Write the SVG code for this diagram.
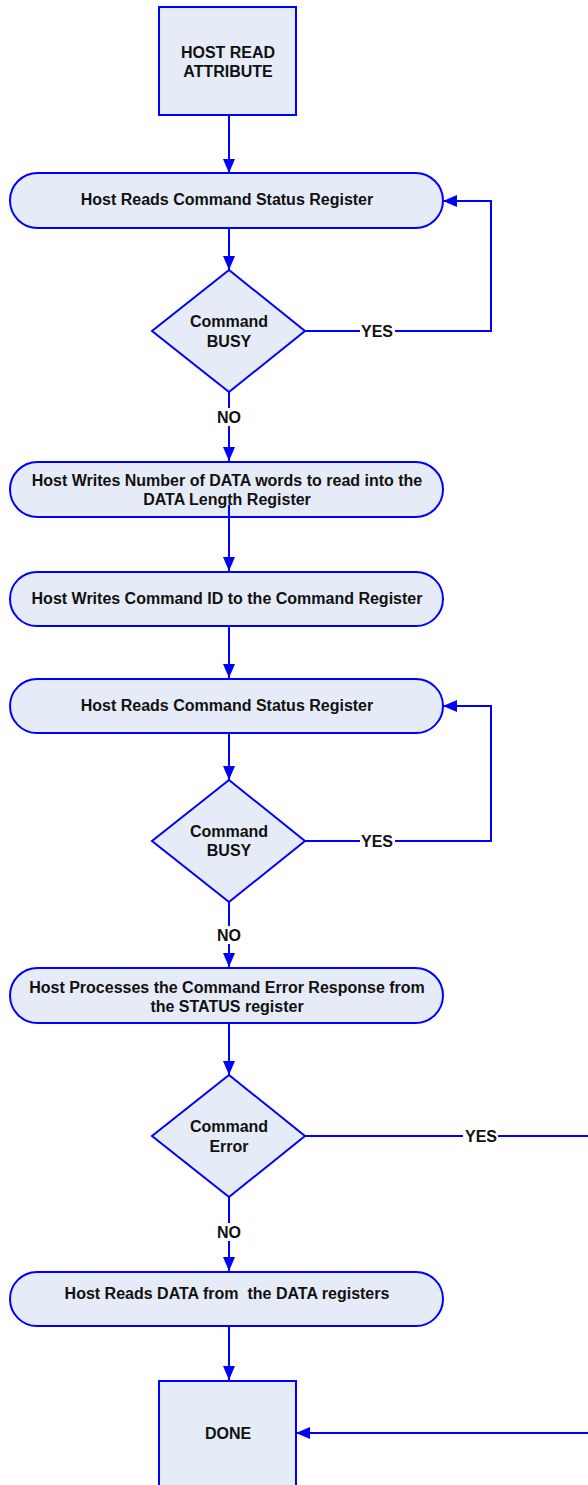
<svg xmlns="http://www.w3.org/2000/svg" width="588" height="1485" viewBox="0 0 588 1485">
<style>
.s{fill:#E6ECF7;stroke:#0000FF;stroke-width:2}
.t{font-family:"Liberation Sans",Arial,sans-serif;font-weight:bold;font-size:16px;fill:#111;text-anchor:middle}
.c{fill:none;stroke:#0000FF;stroke-width:2}
.l{font-family:"Liberation Sans",Arial,sans-serif;font-weight:bold;font-size:16px;fill:#111;text-anchor:middle}
.bg{fill:#fff}
</style>
<defs>
<marker id="a" markerWidth="7" markerHeight="6" refX="7" refY="3" orient="auto" markerUnits="strokeWidth">
<path d="M0,0 L7,3 L0,6 Z" fill="#0000FF"/>
</marker>
</defs>
<rect width="588" height="1485" fill="#fff"/>
<g id="connectors">
<path class="c" d="M229,115 V173" marker-end="url(#a)"/>
<path class="c" d="M229,228 V270" marker-end="url(#a)"/>
<path class="c" d="M305,331 H491 V201 H443" marker-end="url(#a)"/>
<path class="c" d="M229,392 V461" marker-end="url(#a)"/>
<path class="c" d="M229,505 V571" marker-end="url(#a)"/>
<path class="c" d="M229,626 V678" marker-end="url(#a)"/>
<path class="c" d="M229,733 V780" marker-end="url(#a)"/>
<path class="c" d="M305,841 H491 V706 H443" marker-end="url(#a)"/>
<path class="c" d="M229,902 V967" marker-end="url(#a)"/>
<path class="c" d="M229,1023 V1075" marker-end="url(#a)"/>
<path class="c" d="M305,1136 H590"/>
<path class="c" d="M590,1433 H296" marker-end="url(#a)"/>
<path class="c" d="M229,1197 V1271" marker-end="url(#a)"/>
<path class="c" d="M229,1326 V1380" marker-end="url(#a)"/>
<rect class="bg" x="360" y="322" width="35" height="18"/>
<text class="l" x="377" y="337">YES</text>
<rect class="bg" x="360" y="832" width="35" height="18"/>
<text class="l" x="377" y="847">YES</text>
<rect class="bg" x="463" y="1127" width="35" height="18"/>
<text class="l" x="481" y="1142">YES</text>
<rect class="bg" x="213" y="408" width="32" height="18"/>
<text class="l" x="229" y="423">NO</text>
<rect class="bg" x="213" y="926" width="32" height="18"/>
<text class="l" x="229" y="941">NO</text>
<rect class="bg" x="213" y="1223" width="32" height="18"/>
<text class="l" x="229" y="1238">NO</text>
</g>
<g id="start">
<rect class="s" x="159" y="7" width="137" height="108"/>
<text class="t" x="228" y="58">HOST READ</text>
<text class="t" x="228" y="77">ATTRIBUTE</text>
</g>
<g id="read1">
<rect class="s" x="10" y="173" width="433" height="55" rx="27.5"/>
<text class="t" x="227" y="205">Host Reads Command Status Register</text>
</g>
<g id="busy1">
<polygon class="s" points="229,270 305,331 229,392 152,331"/>
<text class="t" x="229" y="327">Command</text>
<text class="t" x="229" y="347">BUSY</text>
</g>
<g id="writelen">
<rect class="s" x="10" y="462" width="433" height="55" rx="27.5"/>
<text class="t" x="227" y="486">Host Writes Number of DATA words to read into the</text>
<text class="t" x="227" y="505">DATA Length Register</text>
</g>
<path class="c" d="M229,505 V520"/>
<g id="writecmd">
<rect class="s" x="10" y="572" width="433" height="54" rx="27"/>
<text class="t" x="227" y="604">Host Writes Command ID to the Command Register</text>
</g>
<g id="read2">
<rect class="s" x="10" y="679" width="433" height="54" rx="27"/>
<text class="t" x="227" y="711">Host Reads Command Status Register</text>
</g>
<g id="busy2">
<polygon class="s" points="229,780 305,841 229,902 152,841"/>
<text class="t" x="229" y="837">Command</text>
<text class="t" x="229" y="856">BUSY</text>
</g>
<g id="process">
<rect class="s" x="10" y="968" width="433" height="55" rx="27.5"/>
<text class="t" x="227" y="993">Host Processes the Command Error Response from</text>
<text class="t" x="227" y="1012">the STATUS register</text>
</g>
<g id="error">
<polygon class="s" points="229,1075 305,1136 229,1197 152,1136"/>
<text class="t" x="229" y="1132">Command</text>
<text class="t" x="229" y="1152">Error</text>
</g>
<g id="readdata">
<rect class="s" x="10" y="1272" width="433" height="54" rx="27"/>
<text class="t" x="227" y="1299" xml:space="preserve">Host Reads DATA from  the DATA registers</text>
</g>
<g id="done">
<rect class="s" x="159" y="1381" width="137" height="110"/>
<text class="t" x="228" y="1439">DONE</text>
</g>
</svg>
